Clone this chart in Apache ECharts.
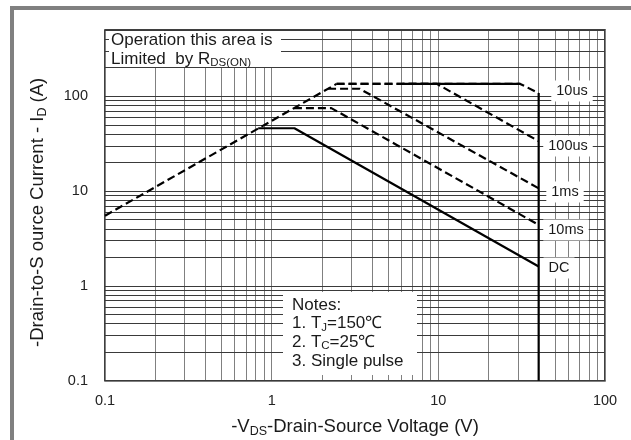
<!DOCTYPE html>
<html><head><meta charset="utf-8">
<script src="https://cdn.jsdelivr.net/npm/echarts@6/dist/echarts.min.js"></script>
<style>html,body{margin:0;padding:0;background:#fff}#c{width:631px;height:440px}</style>
</head><body><div id="c"></div>
<script>
// ---- data ----
const xTicks = [0.1, 1, 10, 100];
const yTicks = [0.1, 1, 10, 100];
const xDecades = [0.1, 1, 10];
const yDecades = [0.1, 1, 10, 100];
const rdsLimit = [[0.1, 5.5], [2.45, 135]];
const curve10us = [[2.45, 135], [31, 135], [40, 108]];
const curve10usSolid = [[6.1, 135], [31, 135]];
const curve100us = [[2.45, 135], [9.8, 135], [40, 33.6]];
const curve1ms = [[2.18, 120], [3.37, 120], [40, 10.7]];
const curve10ms = [[1.36, 75], [2.28, 75], [40, 4.4]];
const curveDC = [[0.83, 46], [1.37, 46], [40, 1.6]];
const vdsLimit = [[40, 0.1], [40, 108]];
const curveLabels = ['10us', '100us', '1ms', '10ms', 'DC'];
const yMax = 500;

// ---- build grid values from the axis decades ----
const xGrid = [];
xDecades.forEach(d => { for (let k = 1; k <= 9; k++) xGrid.push(d * k); });
xGrid.push(100);
const yGrid = [];
yDecades.forEach(d => { for (let k = 1; k <= 9; k++) if (d * k <= yMax) yGrid.push(d * k); });

const FONT = '"Liberation Sans", Arial, Helvetica, sans-serif';
const near = (arr, v) => arr.some(t => Math.abs(Math.log10(t) - Math.log10(v)) < 1e-6);

const chart = echarts.init(document.getElementById('c'), null, {renderer: 'canvas'});

const dashed = {color: '#000', width: 2.2, type: [8, 4]};
const solid = {color: '#000', width: 2.2, type: 'solid'};
function lineSeries(data, style) {
  return {type: 'line', data: data, showSymbol: false, symbol: 'none', lineStyle: style,
    z: 10, silent: true, animation: false};
}

const labelPos = [[572, 91], [568, 146], [565, 192], [566, 230], [559, 268]];
const subRich = {s: {fontSize: 11.5, fontFamily: FONT, fill: '#1a1a1a', verticalAlign: 'bottom', lineHeight: 12}};

const option = {
  animation: false,
  backgroundColor: '#fff',
  grid: {left: 105, right: 26, top: 30, bottom: 59.3, show: true, borderColor: '#000',
    borderWidth: 1.5, backgroundColor: '#fff', containLabel: false, outerBoundsMode: 'none'},
  xAxis: {
    type: 'log', logBase: 10, min: 0.1, max: 100,
    axisLine: {show: false}, axisTick: {show: false}, splitLine: {show: false},
    axisLabel: {fontSize: 14.5, color: '#222', margin: 13, fontFamily: FONT,
      formatter: v => near(xTicks, v) ? String(+(+v).toPrecision(6)) : ''},
    name: '-V{s|DS}-Drain-Source Voltage (V)', nameLocation: 'middle', nameGap: 35,
    nameTextStyle: {fontSize: 18.5, color: '#1a1a1a', fontFamily: FONT, lineHeight: 22,
      rich: {s: {fontSize: 12.5, fontFamily: FONT, color: '#1a1a1a', verticalAlign: 'bottom', lineHeight: 14}}}
  },
  yAxis: {
    type: 'log', logBase: 10, min: 0.1, max: yMax,
    axisLine: {show: false}, axisTick: {show: false}, splitLine: {show: false},
    axisLabel: {fontSize: 14.5, color: '#222', margin: 17, fontFamily: FONT,
      formatter: v => near(yTicks, v) ? String(+(+v).toPrecision(6)) : ''},
    name: '-Drain-to-S ource Current - I{s|D} (A)', nameLocation: 'middle', nameGap: 56,
    nameTextStyle: {fontSize: 18.5, color: '#1a1a1a', fontFamily: FONT, lineHeight: 22,
      padding: [0, 14, 0, 0],
      rich: {s: {fontSize: 12.5, fontFamily: FONT, color: '#1a1a1a', verticalAlign: 'bottom', lineHeight: 14}}}
  },
  series: [
    {type: 'line', data: [[1, 1]], showSymbol: false, symbol: 'none', lineStyle: {width: 0}, z: 1, silent: true,
      markLine: {silent: true, z: 1, symbol: ['none', 'none'], label: {show: false}, animation: false,
        lineStyle: {type: 'solid', color: '#808080', width: 1},
        data: xGrid.map(v => ({xAxis: v}))}},
    {type: 'line', data: [[1, 1]], showSymbol: false, symbol: 'none', lineStyle: {width: 0}, z: 1, silent: true,
      markLine: {silent: true, z: 1, symbol: ['none', 'none'], label: {show: false}, animation: false,
        lineStyle: {type: 'solid', color: '#3a3a3a', width: 1},
        data: yGrid.map(v => ({yAxis: v}))}},
    lineSeries(rdsLimit, dashed),
    lineSeries(curve10us, dashed),
    lineSeries(curve10usSolid, solid),
    lineSeries(curve100us, dashed),
    lineSeries(curve1ms, dashed),
    lineSeries(curve10ms, dashed),
    lineSeries(curveDC, solid),
    lineSeries(vdsLimit, solid)
  ],
  graphic: [
    {type: 'rect', shape: {x: 10, y: 6, width: 621, height: 4}, style: {fill: '#808080'}, z: 20},
    {type: 'rect', shape: {x: 10, y: 6, width: 4, height: 434}, style: {fill: '#808080'}, z: 20},
    {type: 'rect', shape: {x: 109, y: 31, width: 172, height: 36}, style: {fill: '#fff'}, z: 5},
    {type: 'rect', shape: {x: 283, y: 292, width: 134, height: 83}, style: {fill: '#fff'}, z: 5},
    {type: 'text', x: 111, y: 40, z: 6, style: {text: 'Operation this area is', fill: '#1a1a1a',
      font: '17px ' + FONT, align: 'left', verticalAlign: 'middle'}},
    {type: 'text', x: 111, y: 59, z: 6, style: {text: 'Limited  by R{s|DS(ON)}', fill: '#1a1a1a',
      fontSize: 17, fontFamily: FONT, lineHeight: 20, align: 'left', verticalAlign: 'middle', rich: subRich}},
    {type: 'text', x: 292, y: 305, z: 6, style: {text: 'Notes:', fill: '#1a1a1a',
      fontSize: 17, fontFamily: FONT, align: 'left', verticalAlign: 'middle'}},
    {type: 'text', x: 292, y: 323.5, z: 6, style: {text: '1. T{s|J}=150℃', fill: '#1a1a1a',
      fontSize: 17, fontFamily: FONT, lineHeight: 20, align: 'left', verticalAlign: 'middle', rich: subRich}},
    {type: 'text', x: 292, y: 342, z: 6, style: {text: '2. T{s|C}=25℃', fill: '#1a1a1a',
      fontSize: 17, fontFamily: FONT, lineHeight: 20, align: 'left', verticalAlign: 'middle', rich: subRich}},
    {type: 'text', x: 292, y: 361.5, z: 6, style: {text: '3. Single pulse', fill: '#1a1a1a',
      fontSize: 17, fontFamily: FONT, align: 'left', verticalAlign: 'middle'}}
  ].concat(curveLabels.map((t, i) => ({
    type: 'text', x: labelPos[i][0], y: labelPos[i][1], z: 6,
    style: {text: t, fill: '#1a1a1a', fontSize: 14.5, fontFamily: FONT, align: 'center',
      verticalAlign: 'middle', backgroundColor: '#fff', padding: [3, 5]}
  })))
};
chart.setOption(option);
</script></body></html>
